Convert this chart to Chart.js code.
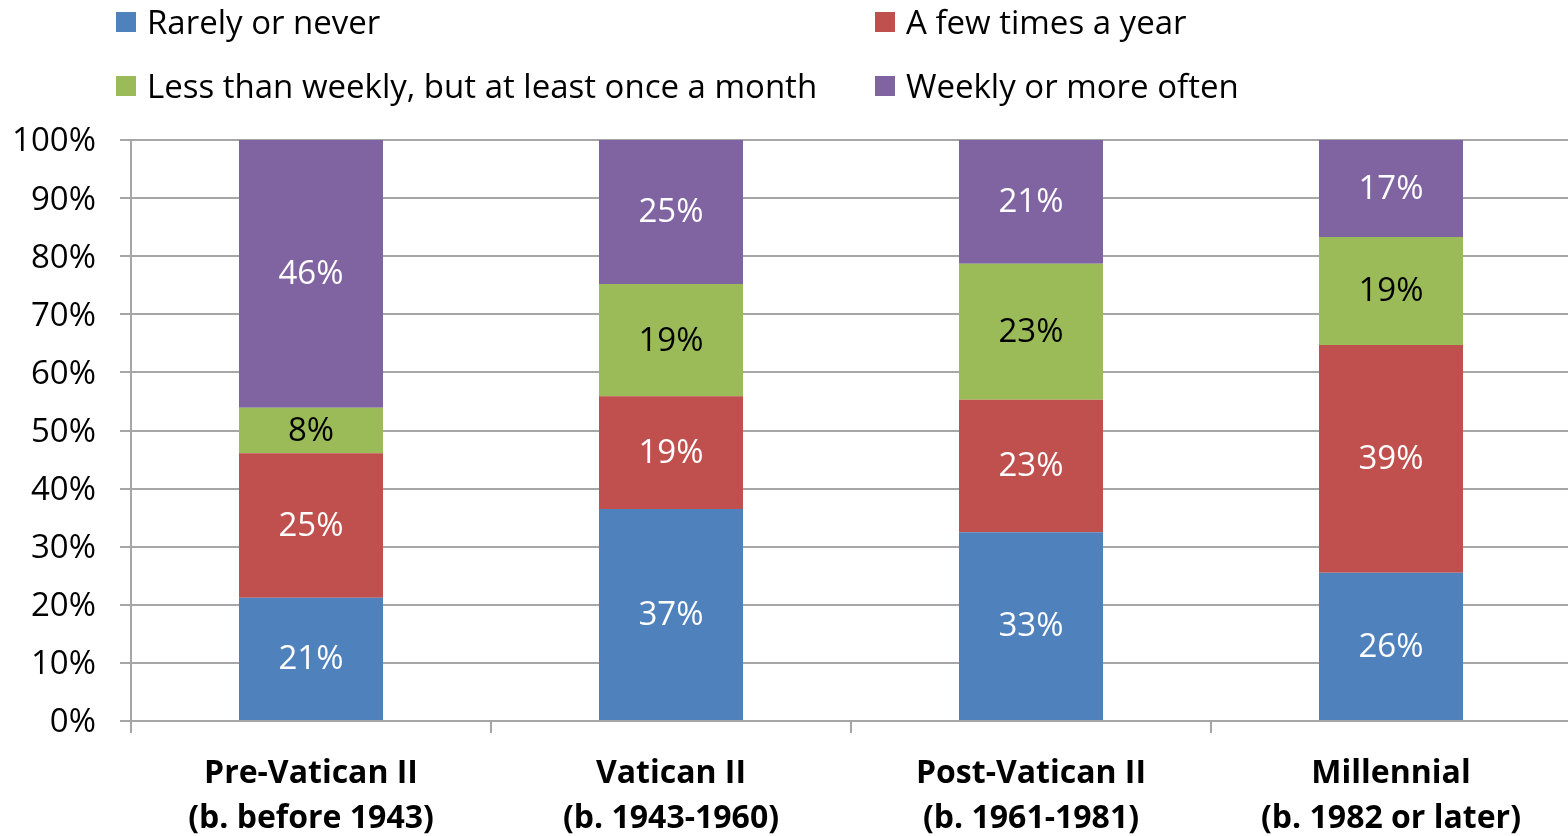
<!DOCTYPE html>
<html><head><meta charset="utf-8">
<script src="https://cdn.jsdelivr.net/npm/chart.js@4/dist/chart.umd.min.js"></script>
<style>
html,body{margin:0;padding:0;background:#fff;overflow:hidden;width:1568px;height:836px}
#wrap{position:relative;width:1571px;height:836px}
#legend{position:absolute;left:0;top:0;width:1568px;height:130px;font-family:"Open Sans",sans-serif;font-size:33px;color:#000}
.li{position:absolute;display:flex;align-items:center;white-space:nowrap;height:36px;line-height:36px}
.sw{width:20px;height:20px;margin-right:11px;flex:none}
canvas{position:absolute;left:0;top:0}
</style></head><body>
<div id="wrap"><canvas id="c" width="1571" height="836"></canvas><div id="legend"></div></div>
<script>
const categories = [["Pre-Vatican II","(b. before 1943)"],["Vatican II","(b. 1943-1960)"],["Post-Vatican II","(b. 1961-1981)"],["Millennial","(b. 1982 or later)"]];
const seriesNames = ["Rarely or never","A few times a year","Less than weekly, but at least once a month","Weekly or more often"];
const seriesColors = ["#4F81BD","#C0504D","#9BBB59","#8064A2"];
const labelColors = ["#FFFFFF","#FFFFFF","#000000","#FFFFFF"];
const rarely = [21.2, 36.5, 32.5, 25.5];
const fewTimes = [24.9, 19.4, 22.8, 39.2];
const monthly = [7.8, 19.3, 23.4, 18.6];
const weekly = [46.1, 24.8, 21.3, 16.7];
const yTicks = [0,10,20,30,40,50,60,70,80,90,100];

const seriesData = [rarely, fewTimes, monthly, weekly];
const FONT = "Open Sans";
const FSIZE = 33;
const XSIZE = 32;

// HTML legend built from series arrays
const legendPos = [[116,4],[875,4],[116,68],[875,68]];
const lg = document.getElementById('legend');
seriesNames.forEach((n,i)=>{
  const d = document.createElement('div');
  d.className='li';
  d.style.left = legendPos[i][0]+'px';
  d.style.top = legendPos[i][1]+'px';
  const s = document.createElement('span'); s.className='sw'; s.style.background=seriesColors[i];
  const t = document.createElement('span'); t.textContent=n;
  d.appendChild(s); d.appendChild(t); lg.appendChild(d);
});

const gridColor = "#A6A6A6";

const labelPlugin = {
  id:'segLabels',
  afterDatasetsDraw(chart){
    const ctx = chart.ctx;
    ctx.save();
    ctx.font = FSIZE + "px '" + FONT + "'";
    ctx.textAlign='center'; ctx.textBaseline='middle';
    chart.data.datasets.forEach((ds,di)=>{
      const meta = chart.getDatasetMeta(di);
      meta.data.forEach((el,i)=>{
        const v = ds.data[i];
        ctx.fillStyle = labelColors[di];
        ctx.fillText(Math.round(v)+'%', el.x, (el.y+el.base)/2 + 1);
      });
    });
    ctx.restore();
  }
};

new Chart(document.getElementById('c'), {
  type:'bar',
  data:{
    labels: categories,
    datasets: seriesNames.map((n,i)=>({label:n, data:seriesData[i], backgroundColor:seriesColors[i], borderWidth:0, barPercentage:0.4, categoryPercentage:1.0}))
  },
  options:{
    responsive:false, animation:false,
    layout:{padding:{top:140,left:0,right:0,bottom:0}},
    plugins:{legend:{display:false}, tooltip:{enabled:false}},
    scales:{
      x:{
        stacked:true,
        grid:{offset:true, drawOnChartArea:false, drawTicks:true, tickLength:12, color:gridColor, lineWidth:2},
        border:{display:true, color:gridColor, width:2},
        ticks:{color:'#000', font:{family:FONT, size:XSIZE, weight:'bold', lineHeight:45/XSIZE}, padding:18, maxRotation:0, autoSkip:false},
        afterFit(s){ s.height = 115; }
      },
      y:{
        stacked:true, min:0, max:100,
        afterBuildTicks(s){ s.ticks = yTicks.map(v=>({value:v})); },
        grid:{color:gridColor, lineWidth:2, tickLength:11, drawTicks:true},
        border:{display:true, color:gridColor, width:2},
        ticks:{color:'#000', font:{family:FONT, size:FSIZE}, padding:24, labelOffset:2, callback:v=>v+'%'},
        afterFit(s){ s.width = 131; }
      }
    }
  },
  plugins:[labelPlugin]
});
</script>
</body></html>
